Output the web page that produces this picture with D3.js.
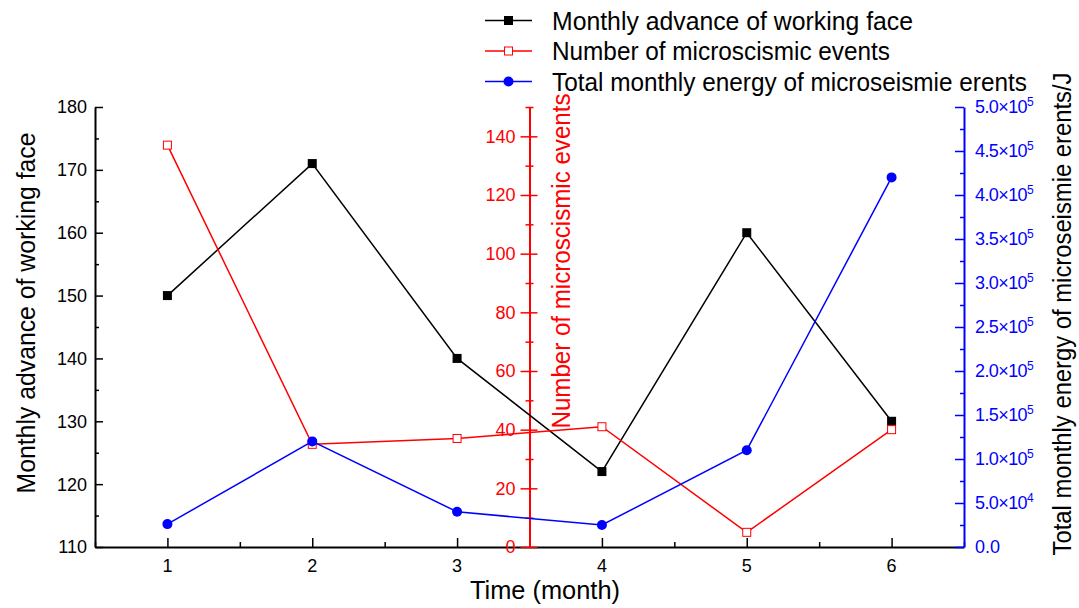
<!DOCTYPE html>
<html>
<head>
<meta charset="utf-8">
<script src="https://cdn.jsdelivr.net/npm/d3@7"></script>
<style>
  html, body { margin: 0; padding: 0; background: #fff; }
  svg { display: block; font-family: "Liberation Sans", Arial, sans-serif; }
</style>
</head>
<body>
<svg id="chart" width="1079" height="608"></svg>
<script>
// Months on the x axis
const months = [1, 2, 3, 4, 5, 6];
// Monthly advance of the working face
const advance = [150, 171, 140, 122, 160, 130];
// Number of microseismic events per month
const eventCount = [137, 35, 37, 41, 5, 40];
// Total monthly energy of microseismic events (J)
const energy = [26000, 120000, 40000, 25000, 110000, 420000];

// Axis ticks
const xTicks = [1, 2, 3, 4, 5, 6];
const advanceTicks = [110, 120, 130, 140, 150, 160, 170, 180];
const countTicks = [0, 20, 40, 60, 80, 100, 120, 140];
const energyTicks = [0, 50000, 100000, 150000, 200000, 250000, 300000, 350000, 400000, 450000, 500000];

const legendLabels = [
  "Monthly advance of working face",
  "Number of microscismic events",
  "Total monthly energy of microseismie erents"
];

const svg = d3.select("#chart");
const plotLeft = 95, plotRight = 964, plotTop = 107, plotBottom = 547;

const x = d3.scaleLinear().domain([0.5, 6.5]).range([plotLeft, plotRight]);
const yAdv = d3.scaleLinear().domain([110, 180]).range([plotBottom, plotTop]);
const yCnt = d3.scaleLinear().domain([0, 150]).range([plotBottom, plotTop]);
const yEng = d3.scaleLinear().domain([0, 500000]).range([plotBottom, plotTop]);

const BLACK = "#000", RED = "#ff0000", BLUE = "#0000ff";

// ---- Left axis (advance) ----
const gL = svg.append("g").attr("transform", `translate(${plotLeft},0)`);
gL.call(d3.axisLeft(yAdv).tickValues(d3.range(110, 181, 5)).tickSize(0).tickFormat(""));
gL.select(".domain").attr("stroke", BLACK).attr("stroke-width", 2);
gL.selectAll(".tick line").remove();
gL.selectAll(".tick").append("line")
  .attr("x1", 0).attr("x2", d => d % 10 === 0 ? 8 : 4)
  .attr("stroke", BLACK).attr("stroke-width", 1.5);
gL.selectAll(".tick text").remove();
gL.selectAll(".lbl").data(advanceTicks).join("text")
  .attr("x", -8).attr("y", d => yAdv(d))
  .attr("dy", "0.36em").attr("text-anchor", "end")
  .attr("font-size", 18).attr("fill", BLACK).text(d => d);

// ---- Bottom axis (time) ----
const gB = svg.append("g").attr("transform", `translate(0,${plotBottom})`);
gB.call(d3.axisBottom(x).tickValues(d3.range(0.5, 6.51, 0.5)).tickSize(0).tickFormat(""));
gB.select(".domain").attr("stroke", BLACK).attr("stroke-width", 2);
gB.selectAll(".tick").append("line")
  .attr("y1", 0).attr("y2", d => Number.isInteger(d) ? -9 : -5)
  .attr("stroke", BLACK).attr("stroke-width", 1.5);
gB.selectAll(".xl").data(xTicks).join("text")
  .attr("x", d => x(d)).attr("y", 25)
  .attr("text-anchor", "middle").attr("font-size", 18).attr("fill", BLACK).text(d => d);

// ---- Middle axis (event count) at x = 3.5 ----
const gM = svg.append("g").attr("transform", `translate(${x(3.5)},0)`);
gM.call(d3.axisLeft(yCnt).tickValues(d3.range(0, 151, 10)).tickSize(0).tickFormat(""));
gM.select(".domain").attr("stroke", RED).attr("stroke-width", 2);
gM.selectAll(".tick").append("line")
  .attr("x1", d => d % 20 === 0 ? -9 : -4)
  .attr("x2", d => d % 20 === 0 ? 8 : 4)
  .attr("stroke", RED).attr("stroke-width", 1.5);
gM.selectAll(".cl").data(countTicks).join("text")
  .attr("x", -14).attr("y", d => yCnt(d))
  .attr("dy", "0.36em").attr("text-anchor", "end")
  .attr("font-size", 18).attr("fill", RED).text(d => d);

// ---- Right axis (energy) ----
const gR = svg.append("g").attr("transform", `translate(${plotRight},0)`);
gR.call(d3.axisRight(yEng).tickValues(d3.range(0, 500001, 25000)).tickSize(0).tickFormat(""));
gR.select(".domain").attr("stroke", BLUE).attr("stroke-width", 2);
gR.selectAll(".tick").append("line")
  .attr("x1", 0).attr("x2", d => d % 50000 === 0 ? -9 : -4)
  .attr("stroke", BLUE).attr("stroke-width", 1.5);
const el = gR.selectAll(".el").data(energyTicks).join("text")
  .attr("x", 11).attr("y", d => yEng(d))
  .attr("dy", "0.36em").attr("font-size", 18).attr("fill", BLUE);
el.each(function (d) {
  const t = d3.select(this);
  if (d === 0) { t.text("0.0"); return; }
  const e = Math.floor(Math.log10(d));
  const m = (d / Math.pow(10, e)).toFixed(1);
  t.append("tspan").text(`${m}×10`).attr("letter-spacing", -0.6);
  t.append("tspan").text(e).attr("font-size", 12).attr("dy", "-0.6em");
});

// ---- Axis titles ----
svg.append("text")
  .attr("transform", "translate(35,313) rotate(-90)")
  .attr("text-anchor", "middle").attr("font-size", 26)
  .attr("textLength", 361).attr("lengthAdjust", "spacingAndGlyphs")
  .attr("fill", BLACK).text("Monthly advance of working face");
svg.append("text")
  .attr("transform", "translate(570,261) rotate(-90)")
  .attr("text-anchor", "middle").attr("font-size", 26)
  .attr("textLength", 335).attr("lengthAdjust", "spacingAndGlyphs")
  .attr("fill", RED).text("Number of microscismic events");
svg.append("text")
  .attr("transform", "translate(1071,314) rotate(-90)")
  .attr("text-anchor", "middle").attr("font-size", 25)
  .attr("textLength", 483).attr("lengthAdjust", "spacingAndGlyphs")
  .attr("fill", BLACK).text("Total monthly energy of microseismie erents/J");
svg.append("text")
  .attr("x", 545).attr("y", 599)
  .attr("text-anchor", "middle").attr("font-size", 25)
  .attr("textLength", 150).attr("lengthAdjust", "spacingAndGlyphs")
  .attr("fill", BLACK).text("Time (month)");

// ---- Series ----
function drawSeries(values, yScale, color, marker) {
  const pts = months.map((m, i) => [x(m), yScale(values[i])]);
  svg.append("path").attr("d", d3.line()(pts))
    .attr("fill", "none").attr("stroke", color).attr("stroke-width", 1.5);
  const g = svg.append("g");
  pts.forEach(p => marker(g, p[0], p[1]));
}
const solidSquare = (g, cx, cy) => g.append("rect")
  .attr("x", cx - 4.5).attr("y", cy - 4.5).attr("width", 9).attr("height", 9).attr("fill", BLACK);
const hollowSquare = (g, cx, cy) => g.append("rect")
  .attr("x", cx - 4).attr("y", cy - 4).attr("width", 8).attr("height", 8)
  .attr("fill", "#fff").attr("stroke", RED).attr("stroke-width", 1);
const dot = (g, cx, cy) => g.append("circle")
  .attr("cx", cx).attr("cy", cy).attr("r", 5).attr("fill", BLUE);

drawSeries(advance, yAdv, BLACK, solidSquare);
drawSeries(eventCount, yCnt, RED, hollowSquare);
drawSeries(energy, yEng, BLUE, dot);

// ---- Legend ----
const legendItems = [
  { label: legendLabels[0], color: BLACK, marker: solidSquare, width: 361 },
  { label: legendLabels[1], color: RED, marker: hollowSquare, width: 338 },
  { label: legendLabels[2], color: BLUE, marker: dot, width: 475 }
];
legendItems.forEach((it, i) => {
  const cy = 20.5 + i * 30.5;
  const g = svg.append("g");
  g.append("line").attr("x1", 485).attr("x2", 532).attr("y1", cy).attr("y2", cy)
    .attr("stroke", it.color).attr("stroke-width", 1.5);
  it.marker(g, 508.5, cy);
  g.append("text").attr("x", 552).attr("y", cy + 9)
    .attr("font-size", 25).attr("textLength", it.width).attr("lengthAdjust", "spacingAndGlyphs")
    .attr("fill", BLACK).text(it.label);
});
</script>
</body>
</html>
